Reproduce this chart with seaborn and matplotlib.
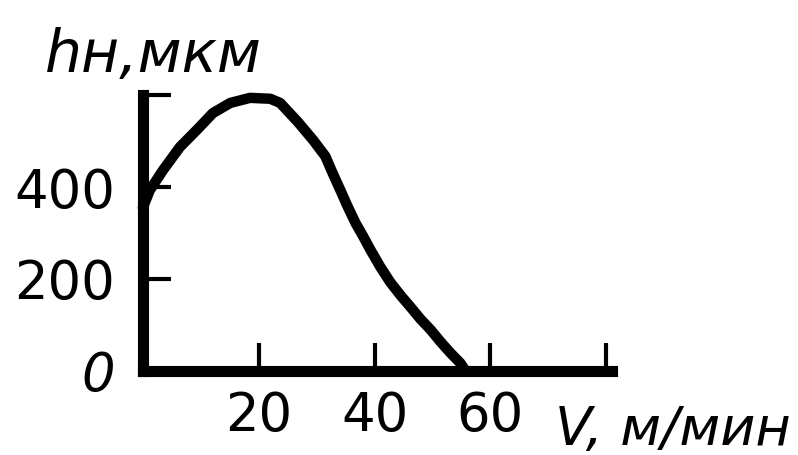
import numpy as np
import pandas as pd
import matplotlib.pyplot as plt
import seaborn as sns

# values
speed = [0, 1.2, 3.5, 6.4, 9.3, 12.1, 15.1, 18.5, 22.0, 23.7, 26.8, 29.4, 31.5,
         32.7, 34.1, 35.3, 36.7, 38.1, 39.3, 41.0, 42.7, 44.5, 46.2, 47.9,
         49.7, 51.4, 53.1, 54.8, 55.5]
height = [355, 393, 437, 487, 524, 561, 583, 594, 592, 583, 541, 502, 467,
          432, 393, 359, 322, 291, 263, 226, 193, 164, 139, 113,
          89, 63, 39, 17, 4]
x_ticks = [20, 40, 60, 80]
x_tick_labels = ['20', '40', '60', '']
y_ticks = [0, 200, 400, 600]
y_tick_labels = ['0', '200', '400', '']

df = pd.DataFrame({'V': speed, 'h': height})

sns.set_style('white')
plt.rcParams['font.family'] = ['DejaVu Sans']
plt.rcParams['text.color'] = 'black'
plt.rcParams['xtick.color'] = 'black'
plt.rcParams['ytick.color'] = 'black'

fig = plt.figure(figsize=(7.98, 4.55), dpi=100)
ax = fig.add_axes([0.179, 0.185, 0.588, 0.606])

sns.lineplot(data=df, x='V', y='h', ax=ax, color='black', linewidth=7.5,
             solid_capstyle='round', solid_joinstyle='round', clip_on=False)

ax.set_xlim(0, 81)
ax.set_ylim(0, 600)
ax.set_xticks(x_ticks)
ax.set_xticklabels(x_tick_labels, fontsize=38)
ax.set_yticks(y_ticks)
ax.set_yticklabels(y_tick_labels, fontsize=38)
ax.get_yticklabels()[0].set_style('italic')
ax.set_xlabel('')
ax.set_ylabel('')

ax.tick_params(axis='both', direction='in', length=20, width=3,
               color='black', labelcolor='black', bottom=True, left=True)
ax.tick_params(axis='x', pad=14)
ax.tick_params(axis='y', pad=20)

for side in ['top', 'right']:
    ax.spines[side].set_visible(False)
for side in ['left', 'bottom']:
    ax.spines[side].set_linewidth(8)
    ax.spines[side].set_color('black')
    ax.spines[side].set_capstyle('projecting')

fig.text(0.056, 1 - 72 / 455, 'hн,мкм', fontsize=42, style='italic')
fig.text(555 / 798, 1 - 445 / 455, 'V, м/мин', fontsize=39, style='italic')

fig.savefig('out.png', dpi=100, facecolor='white')
